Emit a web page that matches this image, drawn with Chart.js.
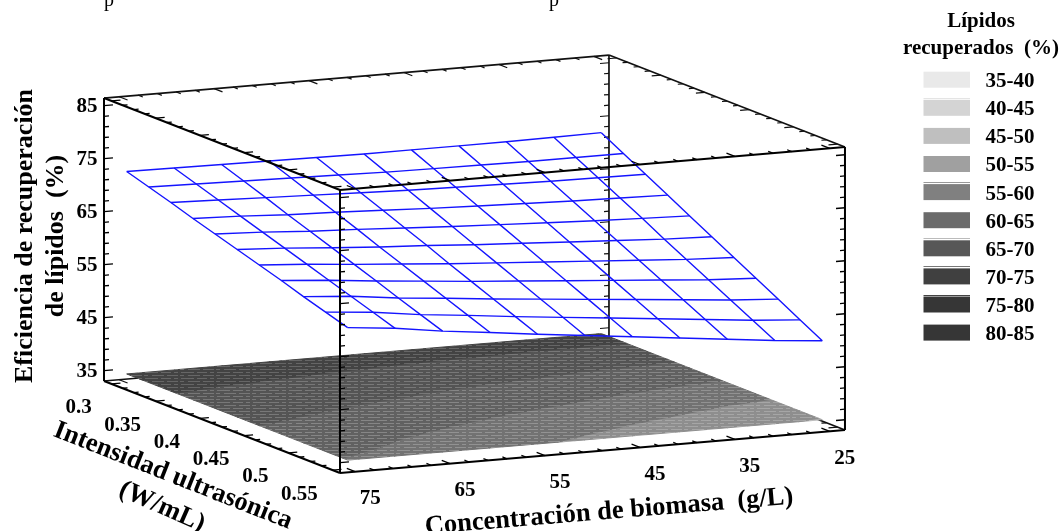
<!DOCTYPE html>
<html lang="es">
<head>
<meta charset="utf-8">
<title>Eficiencia de recuperación de lípidos</title>
<script src="https://cdn.jsdelivr.net/npm/chart.js@4"></script>
<style>html,body{margin:0;padding:0;background:#fff}canvas{display:block}</style>
</head>
<body>
<canvas id="c" width="1060" height="531"></canvas>
<script>
// ---------- data ----------
const biomass = [75, 70, 65, 60, 55, 50, 45, 40, 35, 30, 25];
const intensity = [0.3, 0.325, 0.35, 0.375, 0.4, 0.425, 0.45, 0.475, 0.5, 0.525, 0.55];
const efficiency = [
  [72.9,72.8,72.7,72.6,72.5,72.4,72.4,72.4,72.4,72.5,72.6],
  [71.6,71.4,71.2,71.0,70.8,70.6,70.5,70.4,70.3,70.3,70.3],
  [70.3,70.0,69.7,69.4,69.1,68.8,68.6,68.4,68.2,68.1,68.0],
  [68.9,68.6,68.1,67.8,67.4,67.0,66.7,66.4,66.1,65.9,65.7],
  [67.6,67.2,66.6,66.2,65.7,65.2,64.8,64.4,64.0,63.7,63.4],
  [66.3,65.8,65.1,64.5,64.0,63.4,62.9,62.4,61.9,61.4,61.1],
  [65.0,64.4,63.6,62.9,62.2,61.6,61.0,60.4,59.8,59.2,58.8],
  [63.7,63.0,62.1,61.3,60.5,59.8,59.1,58.4,57.7,57.0,56.5],
  [62.3,61.6,60.5,59.7,58.8,58.0,57.2,56.4,55.6,54.8,54.2],
  [61.0,60.2,59.0,58.1,57.1,56.2,55.3,54.4,53.5,52.6,51.9],
  [59.7,58.8,57.5,56.5,55.4,54.4,53.4,52.4,51.4,50.4,49.6]
];
const biomassTicks = [75, 65, 55, 45, 35, 25];
const intensityTicks = [0.3, 0.35, 0.4, 0.45, 0.5, 0.55];
const efficiencyTicks = [85, 75, 65, 55, 45, 35];
const legendLabels = ['35-40','40-45','45-50','50-55','55-60','60-65','65-70','70-75','75-80','80-85'];
const legendLows = [35,40,45,50,55,60,65,70,75,80];
const legendColors = ['#e9e9e9','#d4d4d4','#bfbfbf','#a0a0a0','#808080','#6b6b6b','#575757','#404040','#363636','#363636'];
const legendEdges = [null,'#e4e4e4',null,null,'#999999',null,'#bbbbbb','#777777','#444444',null];
const bandBase = ['#e0e0e0','#cccccc','#a9a9a9','#8e8e8e','#727272','#616161','#545454','#434343','#363636','#363636'];
const bandDash = ['#eeeeee','#dddddd','#bebebe','#a6a6a6','#929292','#868686','#787878','#666666','#555555','#555555'];

// ---------- box and projection ----------
const B_MIN = 23.4, B_MAX = 76.6, I_MIN = 0.2915, I_MAX = 0.5585, Z_MIN = 33.06, Z_MAX = 86.45;
const FLOOR_Z = 34.7;
const OX = 104, OY = 381, BX = 9.492, BY = -0.808, IX = 883.9, IY = 344.6, ZS = 5.3;
function project(b, i, z) {
  return { x: OX + (B_MAX - b) * BX + (i - I_MIN) * IX,
           y: OY + (B_MAX - b) * BY + (i - I_MIN) * IY - (z - Z_MIN) * ZS };
}
const GAP = { x: NaN, y: NaN };

const ctxMain = document.getElementById('c').getContext('2d');
function makePattern(base, dash) {
  const t = document.createElement('canvas'); t.width = 36; t.height = 6;
  const g = t.getContext('2d');
  g.fillStyle = base; g.fillRect(0, 0, 36, 6);
  g.fillStyle = dash;
  g.fillRect(1, 0, 13, 1); g.fillRect(17, 0, 10, 1); g.fillRect(30, 0, 4, 1);
  g.fillRect(8, 3, 12, 1); g.fillRect(23, 3, 11, 1); g.fillRect(0, 3, 4, 1);
  return ctxMain.createPattern(t, 'repeat');
}
const patterns = bandBase.map((c, k) => makePattern(c, bandDash[k]));

// ---------- dataset helpers ----------
const datasets = [];
function addLine(points, color, width, label) {
  datasets.push({ label: label || '', data: points, showLine: true, fill: false, borderColor: color,
    borderWidth: width, pointRadius: 0, tension: 0, spanGaps: false, clip: false });
}
function clipPoly(poly, test, cross) {
  const out = [];
  for (let n = 0; n < poly.length; n++) {
    const p = poly[n], q = poly[(n + 1) % poly.length];
    const a = test(p), c = test(q);
    if (a) out.push(p);
    if (a !== c) {
      const t = (cross - p.v) / (q.v - p.v);
      out.push({ b: p.b + t * (q.b - p.b), i: p.i + t * (q.i - p.i), v: cross });
    }
  }
  return out;
}

// ---------- back of the box ----------
const backLines = [
  [[B_MAX,I_MIN,Z_MIN],[B_MIN,I_MIN,Z_MIN]],
  [[B_MIN,I_MIN,Z_MIN],[B_MIN,I_MAX,Z_MIN]],
  [[B_MIN,I_MIN,Z_MIN],[B_MIN,I_MIN,Z_MAX]],
  [[B_MAX,I_MIN,Z_MAX],[B_MIN,I_MIN,Z_MAX]],
  [[B_MIN,I_MIN,Z_MAX],[B_MIN,I_MAX,Z_MAX]]
];
const frontLines = [
  [[B_MAX,I_MIN,Z_MIN],[B_MAX,I_MIN,Z_MAX]],
  [[B_MAX,I_MIN,Z_MAX],[B_MAX,I_MAX,Z_MAX]],
  [[B_MAX,I_MAX,Z_MAX],[B_MIN,I_MAX,Z_MAX]],
  [[B_MAX,I_MAX,Z_MAX],[B_MAX,I_MAX,Z_MIN]],
  [[B_MIN,I_MAX,Z_MAX],[B_MIN,I_MAX,Z_MIN]],
  [[B_MAX,I_MIN,Z_MIN],[B_MAX,I_MAX,Z_MIN]],
  [[B_MAX,I_MAX,Z_MIN],[B_MIN,I_MAX,Z_MIN]]
];
backLines.forEach(s => addLine(s.map(p => project(p[0],p[1],p[2])), '#111', 1.7));

// ticks
function tickSeg(b, i, z, dir, len) {
  const p = project(b, i, z);
  return [p, { x: p.x + dir[0] * len, y: p.y + dir[1] * len }, GAP];
}
const alongB = [0.996, -0.085], alongI = [0.932, 0.363];
const neg = d => [-d[0], -d[1]];
const ticksBack = [], ticksFront = [];
const zMinor = [], bMinor = [], iMinor = [];
efficiencyTicks.forEach(t => { for (let k = -2; k <= 2; k++) zMinor.push([t + k * 2, k === 0]); });
biomassTicks.forEach(t => { for (let k = 0; k < 5; k++) bMinor.push([t + k * 2, k === 0]); });
intensityTicks.forEach(t => { for (let k = 0; k < 4; k++) iMinor.push([t + k * 0.0125, k === 0]); });
zMinor.forEach(([z, major]) => {
  const l = major ? 9 : 5;
  if (z < Z_MIN || z > Z_MAX) return;
  ticksFront.push(...tickSeg(B_MAX, I_MIN, z, alongB, l), ...tickSeg(B_MAX, I_MAX, z, alongB, l),
                  ...tickSeg(B_MIN, I_MAX, z, neg(alongB), l));
  ticksBack.push(...tickSeg(B_MIN, I_MIN, z, neg(alongB), l));
});
bMinor.forEach(([b, major]) => {
  const l = major ? 9 : 5;
  if (b < B_MIN || b > B_MAX) return;
  ticksBack.push(...tickSeg(b, I_MIN, Z_MAX, alongI, l), ...tickSeg(b, I_MIN, Z_MIN, alongI, l));
  ticksFront.push(...tickSeg(b, I_MAX, Z_MAX, neg(alongI), l), ...tickSeg(b, I_MAX, Z_MIN, neg(alongI), l));
});
iMinor.forEach(([i, major]) => {
  const l = major ? 9 : 5;
  if (i < I_MIN || i > I_MAX) return;
  ticksFront.push(...tickSeg(B_MAX, i, Z_MAX, alongB, l), ...tickSeg(B_MAX, i, Z_MIN, alongB, l));
  ticksBack.push(...tickSeg(B_MIN, i, Z_MAX, neg(alongB), l), ...tickSeg(B_MIN, i, Z_MIN, neg(alongB), l));
});
addLine(ticksBack, '#111', 1.2);

// ---------- grey contour surface near the floor ----------
for (let r = 0; r < intensity.length - 1; r++) {
  for (let c = 0; c < biomass.length - 1; c++) {
    const quad = [[r,c],[r,c+1],[r+1,c+1],[r+1,c]].map(([a,d]) => ({ b: biomass[d], i: intensity[a], v: efficiency[a][d] }));
    legendLows.forEach((lo, k) => {
      const hi = lo + 5;
      let poly = clipPoly(quad, p => p.v >= lo - 1e-9, lo);
      if (poly.length) poly = clipPoly(poly, p => p.v <= hi + 1e-9, hi);
      if (poly.length < 3) return;
      const pts = poly.map(p => project(p.b, p.i, FLOOR_Z));
      pts.push(pts[0]);
      datasets.push({ label: legendLabels[k], data: pts, showLine: true, fill: 'shape',
        backgroundColor: patterns[k], borderColor: patterns[k], borderWidth: 1,
        pointRadius: 0, tension: 0, clip: false });
    });
  }
}

// ---------- blue mesh ----------
const BLUE = '#1414ff';
efficiency.forEach((row, r) => addLine(row.map((z, c) => project(biomass[c], intensity[r], z)), BLUE, 1.4, 'Eficiencia'));
biomass.forEach((b, c) => addLine(efficiency.map((row, r) => project(b, intensity[r], row[c])), BLUE, 1.4, 'Eficiencia'));

// ---------- front of the box ----------
frontLines.forEach(s => addLine(s.map(p => project(p[0],p[1],p[2])), '#000', 2));
addLine(ticksFront, '#000', 1.3);

// first dataset in the array is painted last
datasets.reverse();

// ---------- text and legend ----------
const SERIF = '"Liberation Serif","Times New Roman",serif';
function put(ctx, text, x, y, size, angle, weight) {
  ctx.save();
  ctx.font = (weight || 'bold') + ' ' + size + 'px ' + SERIF;
  ctx.fillStyle = '#000'; ctx.textAlign = 'center'; ctx.textBaseline = 'middle';
  ctx.translate(x, y); ctx.rotate((angle || 0) * Math.PI / 180);
  ctx.fillText(text, 0, 0);
  ctx.restore();
}
const TICK_SIZE = 21, TITLE_SIZE = 26.5;
const textPlugin = {
  id: 'boxText',
  afterDraw(chart) {
    const { ctx } = chart, sx = chart.scales.x, sy = chart.scales.y;
    const at = p => ({ x: sx.getPixelForValue(p.x), y: sy.getPixelForValue(p.y) });
    efficiencyTicks.forEach(t => {
      const p = at(project(B_MAX, I_MIN, t));
      put(ctx, String(t), p.x - 17, p.y + 1, TICK_SIZE);
    });
    intensityTicks.forEach(t => {
      const p = at(project(B_MAX, t, Z_MIN));
      put(ctx, String(t), p.x - 33, p.y + 24, TICK_SIZE);
    });
    biomassTicks.forEach(t => {
      const p = at(project(t, I_MAX, Z_MIN));
      put(ctx, String(t), p.x + 15, p.y + 27, TICK_SIZE);
    });
    put(ctx, 'Eficiencia de recuperación', 25, 236, 26, -90);
    put(ctx, 'de lípidos  (%)', 56, 236, 26, -90);
    put(ctx, 'Intensidad ultrasónica', 173, 476, TITLE_SIZE, 21.5);
    put(ctx, '(W/mL)', 162, 507, TITLE_SIZE, 24);
    put(ctx, 'Concentración de biomasa  (g/L)', 609, 512, TITLE_SIZE, -4.7);
    put(ctx, 'p', 109, 1, 20, 0, 'normal');
    put(ctx, 'p', 554, 1, 20, 0, 'normal');
    put(ctx, 'Lípidos', 981, 22, TICK_SIZE);
    put(ctx, 'recuperados  (%)', 981, 49, TICK_SIZE);
    legendLabels.forEach((lab, k) => {
      const top = 71.7 + k * 28.1;
      ctx.fillStyle = legendColors[k];
      ctx.fillRect(923.5, top, 46.5, 16);
      if (legendEdges[k]) {
        ctx.fillStyle = legendEdges[k];
        ctx.fillRect(923.5, Math.round(top) - 2, 46.5, 1);
      }
      put(ctx, lab, 1010, top + 10, TICK_SIZE);
    });
  }
};

new Chart(ctxMain, {
  type: 'scatter',
  data: { datasets },
  options: {
    responsive: false, animation: false, events: [],
    layout: { padding: 0 },
    plugins: { legend: { display: false }, tooltip: { enabled: false }, title: { display: false } },
    scales: {
      x: { type: 'linear', min: 0, max: 1060, display: false },
      y: { type: 'linear', min: 0, max: 531, reverse: true, display: false }
    }
  },
  plugins: [textPlugin]
});
</script>
</body>
</html>
